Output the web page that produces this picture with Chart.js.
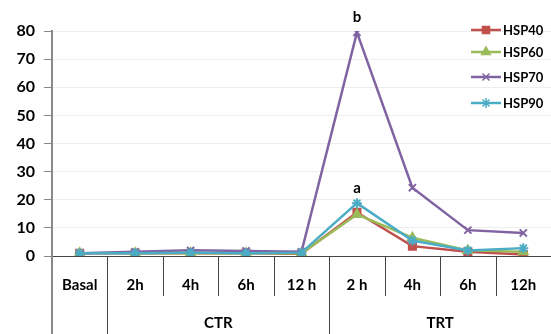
<!DOCTYPE html>
<html><head><meta charset="utf-8">
<script src="https://cdn.jsdelivr.net/npm/chart.js@4/dist/chart.umd.min.js"></script>
<style>html,body{margin:0;padding:0;background:#fff}#wrap{width:551px;height:334px}</style>
</head><body><div id="wrap"><canvas id="c" width="551" height="334"></canvas></div>
<script>
const categories = ['Basal','2h','4h','6h','12 h','2 h','4h','6h','12h'];
const groups = [{label:'CTR', from:1, to:4}, {label:'TRT', from:5, to:8}];
const hsp40 = [1, 1, 1, 1, 0.8, 15.5, 3.5, 1.5, 0.5];
const hsp60 = [1, 1, 1, 1, 1, 14.8, 6.5, 2, 1.5];
const hsp70 = [1, 1.5, 2, 1.8, 1.5, 79.5, 24.3, 9.2, 8.2];
const hsp90 = [1, 1, 1.2, 1, 1.2, 18.8, 5.5, 2, 2.8];
const yTicks = [0,10,20,30,40,50,60,70,80];
const annotations = [{text:'b', series:2, index:5}, {text:'a', series:3, index:5}];

const FONT = 'Lato, "Open Sans", sans-serif';
const mk = (label, data, color, style, order) => ({
  label, data, borderColor: color, backgroundColor: color, pointStyle: style,
  pointRadius: 5, pointBorderWidth: 2, borderWidth: 2.5,
  tension: 0, order, pointHoverRadius: 5
});

const extras = {
  id: 'extras',
  afterDraw(chart) {
    const ctx = chart.ctx, x = chart.scales.x, y = chart.scales.y, ca = chart.chartArea;
    ctx.save();
    ctx.strokeStyle = '#444'; ctx.lineWidth = 1;
    const bounds = new Set();
    groups.forEach(g => { bounds.add(g.from - 0.5); bounds.add(g.to + 0.5); });
    for (let i = 0; i < categories.length - 1; i++) {
      const px = Math.round((x.getPixelForValue(i) + x.getPixelForValue(i + 1)) / 2) + 0.5;
      const long = bounds.has(i + 0.5);
      ctx.beginPath(); ctx.moveTo(px, ca.bottom); ctx.lineTo(px, long ? chart.height : ca.bottom + 40); ctx.stroke();
    }
    ctx.strokeStyle = '#888'; ctx.lineWidth = 2;
    ctx.beginPath(); ctx.moveTo(ca.left, ca.bottom); ctx.lineTo(ca.left, chart.height); ctx.stroke();
    ctx.fillStyle = '#000'; ctx.font = 'bold 15px ' + FONT; ctx.textAlign = 'center'; ctx.textBaseline = 'middle';
    groups.forEach(g => {
      const l = (x.getPixelForValue(g.from - 1) + x.getPixelForValue(g.from)) / 2;
      const r = g.to + 1 < categories.length ? (x.getPixelForValue(g.to) + x.getPixelForValue(g.to + 1)) / 2 : ca.right;
      ctx.fillText(g.label, (l + r) / 2, 323);
    });
    annotations.forEach(a => {
      const ds = chart.data.datasets[a.series];
      const px = x.getPixelForValue(a.index), py = y.getPixelForValue(ds.data[a.index]);
      ctx.fillText(a.text, px, py - 15);
    });
    const rows = [30, 52, 77, 103];
    chart.data.datasets.forEach((ds, i) => {
      const ly = rows[i];
      ctx.strokeStyle = ds.borderColor; ctx.lineWidth = 2.5;
      ctx.beginPath(); ctx.moveTo(471, ly); ctx.lineTo(501, ly); ctx.stroke();
      ctx.fillStyle = ds.borderColor; ctx.lineWidth = 1.5;
      Chart.helpers.drawPoint(ctx, {pointStyle: ds.pointStyle, radius: 5, rotation: 0, borderWidth: 1.5}, 486, ly);
      ctx.fillStyle = '#000'; ctx.font = 'bold 13px ' + FONT; ctx.textAlign = 'left';
      ctx.fillText(ds.label, 503, ly + 1);
    });
    ctx.restore();
  }
};

new Chart(document.getElementById('c'), {
  type: 'line',
  data: {
    labels: categories,
    datasets: [
      mk('HSP40', hsp40, '#C0504D', 'rect', 3),
      mk('HSP60', hsp60, '#9BBB59', 'triangle', 2),
      mk('HSP70', hsp70, '#8064A2', 'crossRot', 1),
      mk('HSP90', hsp90, '#4BACC6', 'star', 0)
    ]
  },
  options: {
    responsive: false, animation: false, devicePixelRatio: 1,
    layout: {autoPadding: false, padding: {top: 31, right: 0, left: 0, bottom: 0}},
    plugins: {legend: {display: false}, tooltip: {enabled: false}},
    scales: {
      x: {
        offset: true,
        grid: {display: false, drawTicks: false},
        border: {color: '#444', width: 1},
        ticks: {color: '#000', font: {family: FONT, size: 15, weight: 'bold'}, padding: 20, maxRotation: 0, autoSkip: false},
        afterFit(s) { s.height = 78; s.paddingLeft = 0; s.paddingRight = 0; }
      },
      y: {
        min: 0, max: 80,
        afterBuildTicks(s) { s.ticks = yTicks.map(v => ({value: v})); },
        grid: {color: '#eeeeee', tickLength: 8, tickColor: '#888'},
        border: {color: '#888', width: 2},
        ticks: {color: '#000', font: {family: FONT, size: 16, weight: 'bold'}, padding: 9},
        afterFit(s) { s.width = 52; s.paddingTop = 0; s.paddingBottom = 0; }
      }
    }
  },
  plugins: [extras]
});
</script></body></html>
